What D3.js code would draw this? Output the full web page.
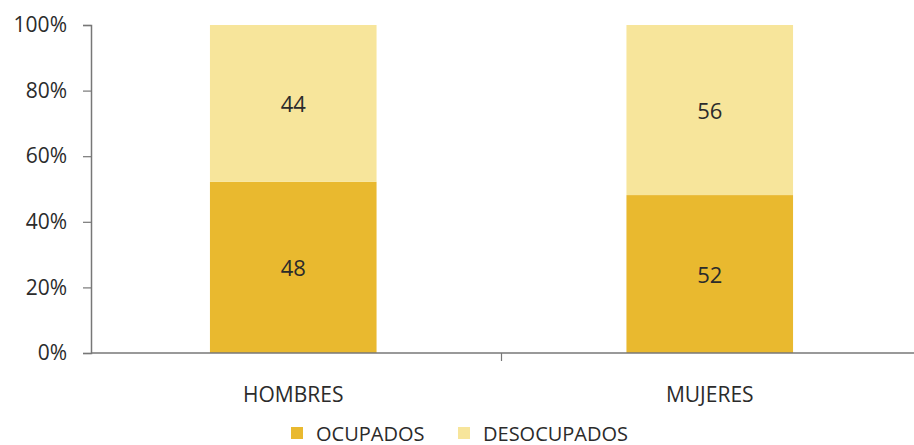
<!DOCTYPE html>
<html><head><meta charset="utf-8">
<script src="https://cdn.jsdelivr.net/npm/d3@7"></script>
<style>body{margin:0;background:#fff}svg{display:block}text{font-family:"Open Sans","Noto Sans",sans-serif;fill:#2b2b2b}</style>
</head><body><svg id="c" width="914" height="445"></svg>
<script>
const categories = ["HOMBRES", "MUJERES"];
const seriesNames = ["OCUPADOS", "DESOCUPADOS"];
const ocupados = [48, 52];
const desocupados = [44, 56];
const yTicks = [0, 0.2, 0.4, 0.6, 0.8, 1.0];
const colors = ["#E9B92F", "#F7E59B"];

const svg = d3.select("#c");
const x = d3.scaleBand().domain(categories).range([85, 918]).paddingInner(0.6).paddingOuter(0.3);
const y = d3.scaleLinear().domain([0, 1]).range([353, 25]);

const data = categories.map((c, i) => ({cat: c, OCUPADOS: ocupados[i], DESOCUPADOS: desocupados[i]}));
const norm = data.map(d => { const t = d.OCUPADOS + d.DESOCUPADOS; return {cat: d.cat, OCUPADOS: d.OCUPADOS / t, DESOCUPADOS: d.DESOCUPADOS / t, raw: d}; });
const stack = d3.stack().keys(seriesNames)(norm);

stack.forEach((s, si) => {
  svg.append("g").selectAll("rect").data(s).join("rect")
    .attr("x", d => x(d.data.cat)).attr("width", x.bandwidth())
    .attr("y", d => y(d[1])).attr("height", d => y(d[0]) - y(d[1]))
    .attr("fill", colors[si]);
  svg.append("g").selectAll("text").data(s).join("text")
    .attr("x", d => x(d.data.cat) + x.bandwidth() / 2)
    .attr("y", d => (y(d[0]) + y(d[1])) / 2)
    .attr("text-anchor", "middle").attr("dominant-baseline", "central")
    .attr("font-size", 22)
    .text(d => d.data.raw[s.key]);
});

// y axis
const yAxis = svg.append("g").attr("transform", "translate(91,0)")
  .call(d3.axisLeft(y).tickValues(yTicks).tickFormat(d3.format(".0%")).tickSize(8).tickPadding(16));
yAxis.select(".domain").attr("stroke", "#777").attr("stroke-width", 1.5);
yAxis.selectAll(".tick line").attr("stroke", "#777").attr("stroke-width", 1.2);
yAxis.selectAll("text").attr("font-size", 21).attr("fill", "#2b2b2b").style("font-family", "'Open Sans','Noto Sans',sans-serif");

// x axis line
svg.append("line").attr("x1", 91).attr("x2", 914).attr("y1", 353).attr("y2", 353).attr("stroke", "#777").attr("stroke-width", 1.5);
const step = x.step();
const bounds = [x(categories[1]) - (step - x.bandwidth()) / 2];
svg.selectAll(".xt").data(bounds).join("line").attr("x1", d => d).attr("x2", d => d)
  .attr("y1", 353).attr("y2", 361).attr("stroke", "#777").attr("stroke-width", 1.2);
svg.selectAll(".xl").data(categories).join("text")
  .attr("x", d => x(d) + x.bandwidth() / 2).attr("y", 394)
  .attr("text-anchor", "middle").attr("dominant-baseline", "central")
  .attr("font-size", 21).text(d => d);

// legend
const legX = [291, 458];
const lg = svg.selectAll(".lg").data(seriesNames).join("g").attr("transform", (d, i) => `translate(${legX[i]},427)`);
lg.append("rect").attr("width", 12).attr("height", 12).attr("fill", (d, i) => colors[i]);
lg.append("text").attr("x", 25).attr("y", 6).attr("dominant-baseline", "central").attr("font-size", 20).text(d => d);
</script></body></html>
